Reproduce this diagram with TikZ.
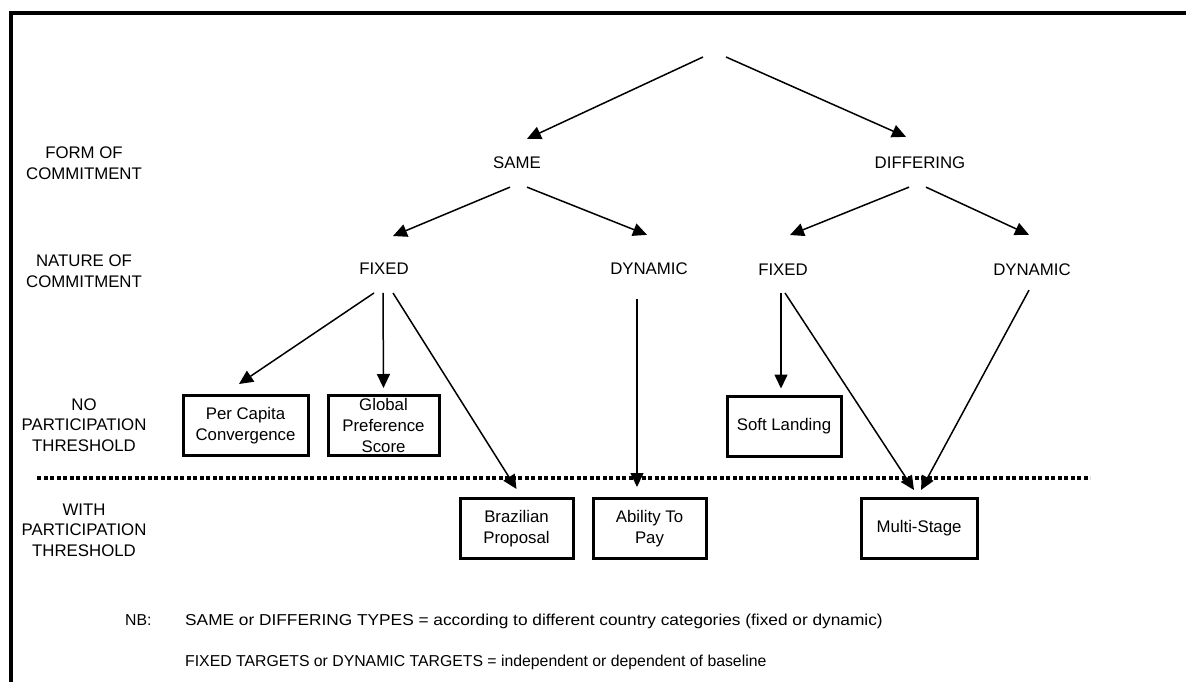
\documentclass[tikz,border=0pt]{standalone}
\usepackage{fontspec}
\setmainfont{Liberation Sans}
\usetikzlibrary{arrows.meta}
\tikzset{>={Triangle[length=14pt,width=13pt]}}
\tikzset{
  lbl/.style={inner sep=0pt, align=center, font=\fontsize{16.8}{20.5}\selectfont},
  scheme/.style={draw, line width=3pt, inner sep=0pt, minimum height=60pt,
    align=center, font=\fontsize{16.8}{21}\selectfont},
  link/.style={->, line width=1.5pt},
  note/.style={inner sep=0pt, anchor=base west, font=\fontsize{15.8}{19}\selectfont}
}

\begin{document}
\begin{tikzpicture}[x=1pt, y=-1pt]
  \useasboundingbox (0,0) rectangle (1186,682);

  % FRAME
  \draw[line width=3.5pt] (1186,13) -- (11,13) -- (11,682);

  % ROW LABELS
  \node[lbl] (formrow)   at (84,163) {FORM OF\\COMMITMENT};
  \node[lbl] (naturerow) at (84,271) {NATURE OF\\COMMITMENT};
  \node[lbl] (norow)     at (84,425) {NO\\PARTICIPATION\\THRESHOLD};
  \node[lbl] (withrow)   at (84,530) {WITH\\PARTICIPATION\\THRESHOLD};

  % TREE
  \coordinate (root) at (714,57);
  \node[lbl] (same)  at (517,163) {SAME};
  \node[lbl] (diff)  at (920,163) {DIFFERING};
  \node[lbl] (fixA)  at (384,269) {FIXED};
  \node[lbl] (dynA)  at (649,269) {DYNAMIC};
  \node[lbl] (fixB)  at (783,270) {FIXED};
  \node[lbl] (dynB)  at (1032,270) {DYNAMIC};

  \node[scheme, minimum width=125pt] (percap)  at (245.5,425.5) {Per Capita\\Convergence};
  \node[scheme, minimum width=111pt] (global)  at (383.5,425.5) {Global\\Preference\\Score};
  \node[scheme, minimum width=114pt] (soft)    at (784,426) {Soft Landing};
  \node[scheme, minimum width=113pt] (brazil)  at (516.5,528.5) {Brazilian\\Proposal};
  \node[scheme, minimum width=113pt] (ability) at (649.5,528.5) {Ability To\\Pay};
  \node[scheme, minimum width=116pt] (multi)   at (919,528.5) {Multi-Stage};

  % THRESHOLD LINE
  \draw[line width=4pt, dash pattern=on 4pt off 2.5pt] (37,477.5) -- (1090,477.5);

  % ARROWS
  \draw[link] ([xshift=-11pt]root) -- ([xshift=10pt,yshift=18pt]same.north);
  \draw[link] ([xshift=12pt]root) -- ([xshift=-14pt,yshift=20pt]diff.north);
  \draw[link] ([xshift=-7pt,yshift=-18pt]same.south) -- ([xshift=9pt,yshift=27pt]fixA.north);
  \draw[link] ([xshift=10pt,yshift=-18pt]same.south) -- ([xshift=-2pt,yshift=28pt]dynA.north);
  \draw[link] ([xshift=-11pt,yshift=-18pt]diff.south) -- ([xshift=7pt,yshift=29pt]fixB.north);
  \draw[link] ([xshift=6pt,yshift=-18pt]diff.south) -- ([xshift=-3pt,yshift=29pt]dynB.north);
  \draw[link] ([xshift=-10pt,yshift=-18pt]fixA.south) -- ([xshift=-6.5pt,yshift=10pt]percap.north);
  \draw[link] ([xshift=-1pt,yshift=-18pt]fixA.south) -- ([yshift=6pt]global.north);
  \draw[link] ([xshift=9pt,yshift=-18pt]fixA.south) -- ([yshift=8pt]brazil.north);
  \draw[link] ([xshift=-12pt,yshift=-24pt]dynA.south) -- ([xshift=-12.5pt,yshift=10pt]ability.north);
  \draw[link] ([xshift=-2pt,yshift=-17pt]fixB.south) -- ([xshift=-3pt,yshift=6pt]soft.north);
  \draw[link] ([xshift=2pt,yshift=-17pt]fixB.south) -- ([xshift=-5pt,yshift=7pt]multi.north);
  \draw[link] ([xshift=-3pt,yshift=-14pt]dynB.south) -- ([xshift=2pt,yshift=7pt]multi.north);

  % NOTES
  \node[note] (nb)    at (125,625) {NB:};
  \node[note] (noteA) at (185,625) {\scalebox{1.094}[1]{SAME or DIFFERING TYPES = according to different country categories (fixed or dynamic)}};
  \node[note] (noteB) at (185,666) {FIXED TARGETS or DYNAMIC TARGETS = independent or dependent of baseline};
\end{tikzpicture}
\end{document}
